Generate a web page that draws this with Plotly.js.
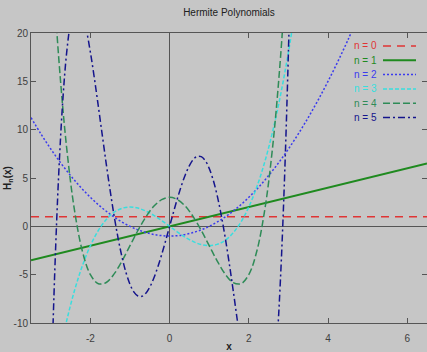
<!DOCTYPE html>
<html>
<head>
<meta charset="utf-8">
<script src="https://cdn.plot.ly/plotly-3.0.1.min.js"></script>
<style>html,body{margin:0;padding:0;background:#c6c6c6;}#chart{width:427px;height:352px;}</style>
</head>
<body>
<div id="chart"></div>
<script>
// ---- data ----
var seriesNames = ["n = 0", "n = 1", "n = 2", "n = 3", "n = 4", "n = 5"];

var x0 = [-3.5, 6.5];
var y0 = [1, 1];

var x1 = [-3.5, 6.5];
var y1 = [-3.5, 6.5];

var x2 = [-3.5,-3.25,-3,-2.75,-2.5,-2.25,-2,-1.75,-1.5,-1.25,-1,-0.75,-0.5,-0.25,0,0.25,0.5,0.75,1,1.25,1.5,1.75,2,2.25,2.5,2.75,3,3.25,3.5,3.75,4,4.25,4.5,4.75];
var y2 = [11.25,9.56,8,6.56,5.25,4.06,3,2.06,1.25,0.56,0,-0.44,-0.75,-0.94,-1,-0.94,-0.75,-0.44,0,0.56,1.25,2.06,3,4.06,5.25,6.56,8,9.56,11.25,13.06,15,17.06,19.25,21.56];

var x3 = [-2.8,-2.6,-2.4,-2.2,-2,-1.8,-1.6,-1.4,-1.2,-1,-0.8,-0.6,-0.4,-0.2,0,0.2,0.4,0.6,0.8,1,1.2,1.4,1.6,1.8,2,2.2,2.4,2.6,2.8,3,3.2];
var y3 = [-13.55,-9.78,-6.62,-4.05,-2,-0.43,0.7,1.46,1.87,2,1.89,1.58,1.14,0.59,0,-0.59,-1.14,-1.58,-1.89,-2,-1.87,-1.46,-0.7,0.43,2,4.05,6.62,9.78,13.55,18,23.17];

var x4 = [-3,-2.8,-2.6,-2.4,-2.2,-2,-1.8,-1.6,-1.4,-1.2,-1,-0.8,-0.6,-0.4,-0.2,0,0.2,0.4,0.6,0.8,1,1.2,1.4,1.6,1.8,2,2.2,2.4,2.6,2.8,3];
var y4 = [30,17.43,8.14,1.62,-2.61,-5,-5.94,-5.81,-4.92,-3.57,-2,-0.43,0.97,2.07,2.76,3,2.76,2.07,0.97,-0.43,-2,-3.57,-4.92,-5.81,-5.94,-5,-2.61,1.62,8.14,17.43,30];

var x5 = [-3,-2.9,-2.8,-2.7,-2.6,-2.5,-2.4,-2.3,-2.2,-2.1,-2,-1.9,-1.8,-1.7,-1.6,-1.5,-1.4,-1.3,-1.2,-1.1,-1,-0.9,-0.8,-0.7,-0.6,-0.5,-0.4,-0.3,-0.2,-0.1,0,0.1,0.2,0.3,0.4,0.5,0.6,0.7,0.8,0.9,1,1.1,1.2,1.3,1.4,1.5,1.6,1.7,1.8,1.9,2,2.1,2.2,2.3,2.4,2.5,2.6,2.7,2.8,2.9,3,3.1];
var y5 = [-18,-4.72,5.42,12.84,17.95,21.09,22.61,22.81,21.94,20.27,18,15.33,12.42,9.43,6.47,3.66,1.06,-1.24,-3.21,-4.8,-6,-6.8,-7.21,-7.24,-6.92,-6.28,-5.37,-4.23,-2.92,-1.49,0,1.49,2.92,4.23,5.37,6.28,6.92,7.24,7.21,6.8,6,4.8,3.21,1.24,-1.06,-3.66,-6.47,-9.43,-12.42,-15.33,-18,-20.27,-21.94,-22.81,-22.61,-21.09,-17.95,-12.84,-5.42,4.72,18,34.88];

var xTickVals = [-2, 0, 2, 4, 6];
var xTickText = ["-2", "0", "2", "4", "6"];
var yTickVals = [-10, -5, 0, 5, 10, 15, 20];
var yTickText = ["-10", "-5", "0", "5", "10", "15", "20"];

// ---- styles ----
var colors = ["#e03434", "#1f8a1f", "#3a3aee", "#38dede", "#2e8b57", "#14148c"];
var dashes = ["8px,6px", "solid", "2px,2px", "4px,2px", "7px,3px", "7px,3px,2px,3px"];
var widths = [1.5, 2, 1.5, 1.5, 1.5, 1.5];

var xs = [x0, x1, x2, x3, x4, x5];
var ys = [y0, y1, y2, y3, y4, y5];

var traces = xs.map(function (xv, i) {
  return {
    x: xv, y: ys[i], type: "scatter", mode: "lines", name: seriesNames[i],
    line: {color: colors[i], dash: dashes[i], width: widths[i], shape: i >= 2 ? "spline" : "linear"},
    showlegend: false, hoverinfo: "skip"
  };
});

var W = 427, H = 352, mL = 31, mR = 0, mT = 33, mB = 29;
var pw = W - mL - mR, ph = H - mT - mB;
function px2x(p) { return (p - mL) / pw; }
function py2y(p) { return (H - mB - p) / ph; }

var annotations = [];
var shapes = [];
seriesNames.forEach(function (nm, i) {
  var yy = 46 + 14.3 * i;
  annotations.push({
    xref: "paper", yref: "paper", x: px2x(379), y: py2y(yy),
    xanchor: "right", yanchor: "middle", text: nm, showarrow: false,
    font: {family: "Liberation Sans, Arial, sans-serif", size: 10, color: colors[i]}
  });
  shapes.push({
    type: "line", xref: "paper", yref: "paper",
    x0: px2x(383), x1: px2x(416), y0: py2y(yy), y1: py2y(yy),
    line: {color: colors[i], dash: dashes[i], width: widths[i]}
  });
});

var axisCommon = {
  showgrid: false, zeroline: true, zerolinecolor: "#555555", zerolinewidth: 1,
  showline: true, linecolor: "#555555", linewidth: 1, mirror: "ticks",
  ticks: "inside", ticklen: 5, tickcolor: "#555555", tickwidth: 1,
  tickfont: {family: "Liberation Sans, Arial, sans-serif", size: 10, color: "#404040"},
  tickmode: "array", automargin: false
};

var layout = {
  width: W, height: H,
  margin: {l: mL, r: mR, t: mT, b: mB, pad: 0},
  paper_bgcolor: "#c6c6c6", plot_bgcolor: "#c6c6c6",
  title: {text: "Hermite Polynomials", x: 0.5, xref: "paper", y: 1 - 12 / H, yref: "container", yanchor: "middle",
          font: {family: "Liberation Sans, Arial, sans-serif", size: 10, color: "#202020"}},
  xaxis: Object.assign({}, axisCommon, {
    range: [-3.5, 6.5], tickvals: xTickVals, ticktext: xTickText, ticklabelstandoff: 6,
    title: {text: "<b>x</b>", standoff: 0, font: {family: "Liberation Sans, Arial, sans-serif", size: 10, color: "#202020"}}
  }),
  yaxis: Object.assign({}, axisCommon, {
    range: [-10, 20], tickvals: yTickVals, ticktext: yTickText,
    title: {text: "<b>H<sub>n</sub>(x)</b>", standoff: 0, font: {family: "Liberation Sans, Arial, sans-serif", size: 10, color: "#202020"}}
  }),
  annotations: annotations, shapes: shapes, showlegend: false
};

Plotly.newPlot("chart", traces, layout, {staticPlot: true, displayModeBar: false});
</script>
</body>
</html>
